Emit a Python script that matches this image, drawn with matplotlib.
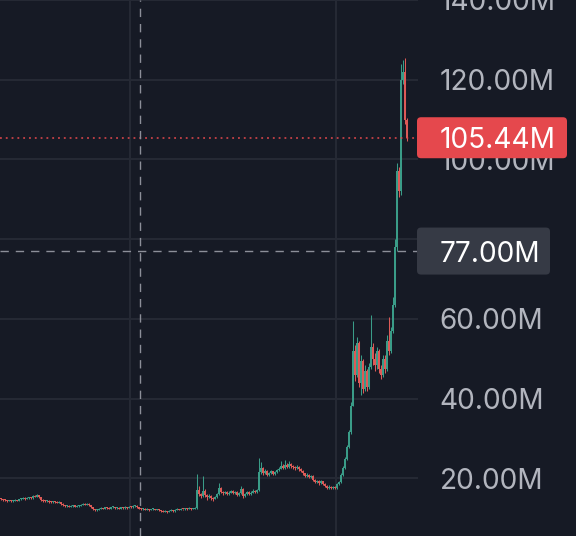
import matplotlib
matplotlib.use("Agg")
import matplotlib.pyplot as plt
from matplotlib.patches import FancyBboxPatch
from matplotlib.transforms import IdentityTransform
import numpy as np

# precios en millones (cierre, maximo, minimo); la apertura es el cierre anterior
cierre = [
    14.8, 14.6, 14.5, 14.3, 14.4, 14.2, 14.3, 14.5, 14.4, 14.7,
    14.9, 15.1, 14.8, 15.0, 15.2, 15.0, 15.6, 15.4, 15.7, 15.2,
    14.6, 14.3, 14.2, 14.4, 14.1, 14.0, 14.2, 14.1, 13.9, 14.0,
    13.6, 13.2, 13.0, 13.1, 12.9, 13.0, 13.2, 12.9, 13.0, 13.1,
    13.3, 13.5, 13.4, 13.6, 13.2, 12.8, 12.2, 11.9, 12.1, 12.3,
    12.5, 12.4, 12.7, 12.6, 12.4, 12.7, 12.8, 12.5, 12.6, 12.4,
    12.7, 12.5, 12.8, 12.6, 12.9, 12.7, 13.0, 13.1, 12.7, 12.4,
    12.2, 12.4, 12.1, 12.3, 12.0, 12.2, 12.3, 12.1, 12.2, 12.0,
    11.8, 11.6, 11.7, 11.5, 11.8, 12.0, 11.7, 12.1, 12.3, 12.1,
    12.3, 12.2, 12.4, 12.3, 12.5, 12.3, 12.4, 12.6, 17.0, 16.0,
    15.6, 16.8, 15.8, 15.2, 15.6, 15.0, 14.8, 15.3, 16.0, 17.5,
    16.6, 16.2, 16.5, 16.0, 16.4, 16.8, 16.3, 16.6, 15.9, 16.2,
    17.4, 15.6, 16.1, 16.6, 16.0, 16.4, 16.9, 16.5, 17.0, 21.5,
    22.5, 21.4, 21.8, 20.9, 21.3, 21.7, 21.0, 21.5, 22.0, 22.4,
    23.1, 22.6, 23.4, 22.8, 23.5, 23.0, 22.7, 22.5, 22.8, 22.3,
    21.8, 21.2, 20.6, 20.9, 20.3, 20.5, 19.6, 19.0, 19.3, 18.8,
    19.2, 18.5, 18.0, 17.6, 17.9, 17.5, 17.8, 17.6, 18.6, 19.0,
    20.8, 22.6, 24.8, 27.8, 31.5, 38.0, 52.0, 46.0, 54.0, 44.0,
    49.5, 42.5, 47.0, 43.0, 48.0, 53.0, 50.0, 48.5, 52.0, 47.5,
    46.0, 50.0, 47.5, 54.5, 52.0, 57.0, 63.5, 78.0, 97.0, 92.0,
    120.0, 122.0, 110.0, 105.44,
]
maximo = [
    15.0, 14.9, 14.7, 14.6, 14.6, 14.5, 14.5, 14.7, 14.6, 14.9,
    15.1, 15.3, 15.2, 15.2, 15.4, 15.3, 15.8, 15.8, 16.0, 15.8,
    15.2, 14.7, 14.5, 14.6, 14.5, 14.3, 14.4, 14.3, 14.2, 14.2,
    14.1, 13.7, 13.3, 13.3, 13.2, 13.2, 13.4, 13.3, 13.2, 13.3,
    13.5, 13.8, 13.7, 13.8, 13.7, 13.3, 12.9, 12.3, 12.3, 12.5,
    12.7, 12.6, 12.9, 12.9, 12.7, 12.9, 13.0, 12.9, 12.8, 12.7,
    12.9, 12.8, 13.0, 12.9, 13.1, 13.0, 13.2, 13.4, 13.2, 12.8,
    12.5, 12.6, 12.5, 12.5, 12.4, 12.4, 12.5, 12.4, 12.4, 12.3,
    12.1, 11.9, 11.9, 11.8, 12.0, 12.2, 12.1, 12.3, 12.5, 12.4,
    12.5, 12.4, 12.6, 12.5, 12.7, 12.6, 12.6, 12.8, 21.0, 18.0,
    16.4, 20.6, 17.2, 16.0, 16.0, 15.8, 15.3, 15.6, 16.3, 18.7,
    17.8, 16.9, 16.8, 16.7, 16.7, 17.1, 17.0, 16.9, 16.8, 16.5,
    18.0, 17.5, 16.4, 16.9, 16.8, 16.7, 17.2, 17.1, 17.3, 25.0,
    24.0, 22.8, 22.2, 22.0, 21.6, 22.0, 21.9, 21.8, 22.4, 22.8,
    24.3, 23.5, 24.6, 23.8, 24.2, 23.8, 23.3, 23.0, 23.2, 23.0,
    22.5, 22.0, 21.4, 21.3, 21.1, 20.8, 20.7, 19.8, 19.6, 19.5,
    19.5, 19.4, 18.7, 18.3, 18.2, 18.1, 18.1, 18.0, 18.9, 19.4,
    21.2, 23.0, 25.3, 28.3, 32.2, 39.0, 59.5, 53.5, 55.5, 54.5,
    51.0, 50.0, 48.5, 47.5, 49.0, 61.0, 54.0, 51.5, 53.0, 52.5,
    48.5, 51.0, 51.0, 56.0, 60.5, 58.0, 65.5, 80.0, 99.0, 98.0,
    124.0, 125.0, 125.5, 110.5,
]
minimo = [
    14.6, 14.4, 14.3, 14.1, 14.2, 14.0, 14.1, 14.2, 14.2, 14.3,
    14.6, 14.8, 14.6, 14.7, 14.9, 14.8, 14.9, 15.2, 15.3, 15.0,
    14.4, 14.1, 14.0, 14.1, 13.9, 13.8, 13.9, 13.9, 13.7, 13.8,
    13.4, 13.0, 12.8, 12.8, 12.7, 12.8, 12.9, 12.7, 12.8, 12.9,
    13.0, 13.2, 13.2, 13.3, 13.0, 12.6, 12.0, 11.7, 11.8, 12.0,
    12.2, 12.2, 12.3, 12.4, 12.2, 12.3, 12.6, 12.3, 12.4, 12.2,
    12.3, 12.3, 12.4, 12.4, 12.5, 12.5, 12.6, 12.9, 12.5, 12.2,
    12.0, 12.1, 11.9, 12.0, 11.8, 11.9, 12.1, 11.9, 12.0, 11.8,
    11.6, 11.4, 11.5, 11.3, 11.4, 11.7, 11.5, 11.6, 12.0, 11.9,
    12.0, 12.0, 12.1, 12.1, 12.2, 12.1, 12.2, 12.3, 12.4, 15.6,
    15.0, 15.4, 15.4, 14.6, 15.0, 14.5, 14.4, 14.7, 15.1, 15.7,
    16.2, 15.8, 16.0, 15.7, 15.8, 16.2, 16.0, 16.1, 15.5, 15.6,
    16.0, 15.0, 15.4, 15.9, 15.7, 15.8, 16.2, 16.2, 16.3, 16.8,
    21.0, 20.8, 21.0, 20.5, 20.6, 21.0, 20.7, 20.8, 21.2, 21.7,
    22.2, 22.2, 22.4, 22.5, 22.6, 22.6, 22.3, 22.1, 22.3, 21.9,
    21.5, 20.9, 20.3, 20.4, 20.0, 20.0, 19.3, 18.7, 18.8, 18.4,
    18.6, 18.2, 17.8, 17.3, 17.4, 17.2, 17.3, 17.3, 17.4, 18.4,
    18.8, 20.5, 22.3, 24.5, 27.5, 31.0, 38.0, 44.5, 45.5, 43.0,
    41.0, 41.5, 42.0, 42.0, 42.5, 47.5, 48.5, 47.0, 47.5, 46.5,
    45.0, 45.5, 46.5, 47.0, 51.0, 51.5, 56.5, 63.0, 77.0, 90.5,
    91.0, 119.0, 109.0, 104.5,
]
apertura_inicial = 14.9
precio_actual = 105.44
precio_cursor = 77.0
niveles = [20, 40, 60, 80, 100, 120, 140]
lineas_tiempo = [64.5, 167.5]
x_cursor = 69.5

fondo = "#161a25"
verde = "#3a9c88"
rojo = "#e5484d"
rojo_vela = "#dd5a57"

cierre = np.array(cierre)
apertura = np.concatenate([[apertura_inicial], cierre[:-1]])
maximo = np.maximum(np.array(maximo), np.maximum(apertura, cierre))
minimo = np.minimum(np.array(minimo), np.minimum(apertura, cierre))
x = np.arange(len(cierre))
sube = cierre >= apertura
colores = np.where(sube, verde, rojo_vela)

fig = plt.figure(figsize=(5.76, 5.36), dpi=100, facecolor=fondo)
ax = fig.add_axes([0, 0, 418 / 576, 1])
ax.set_facecolor(fondo)
for s in ax.spines.values():
    s.set_visible(False)

ax.set_xlim(-0.5, 208.5)
ax.set_ylim(5.5, 139.5)

# rejilla
tam = 20.2
ax.set_yticks(niveles)
ax.set_yticklabels([f"{v:.2f}M" for v in niveles])
ax.set_xticks(lineas_tiempo)
ax.set_xticklabels([])
ax.grid(True, color="#262a35", linewidth=1.4)
ax.set_axisbelow(True)
ax.yaxis.tick_right()
ax.tick_params(axis="y", length=0, pad=15.5, labelsize=tam, labelcolor="#b2b5be")
ax.tick_params(axis="x", length=0)
for t in ax.get_yticklabels():
    t.set_fontfamily("Inter")
    t.set_clip_on(False)

# velas
ax.vlines(x, minimo, maximo, colors=colores, linewidth=0.75, zorder=3)
ax.bar(x, np.maximum(np.abs(cierre - apertura), 0.25), bottom=np.minimum(apertura, cierre),
       width=0.6, color=colores, linewidth=0, zorder=3)

# linea de precio actual y cursor
ax.axhline(precio_actual, color=rojo, linewidth=1.1, linestyle=(0, (1.2, 2.6)), zorder=4)
ax.axhline(precio_cursor, color="#8c8f99", linewidth=1.0, linestyle=(0, (6, 5)), zorder=4)
ax.axvline(x_cursor, color="#8c8f99", linewidth=1.0, linestyle=(0, (6, 5)), zorder=4)

# etiquetas del eje de precios
fig.canvas.draw()
alto = fig.get_size_inches()[1] * fig.dpi


def etiqueta(valor, color, h, w):
    y = ax.transData.transform((0, valor))[1]
    caja = FancyBboxPatch((417, y - h / 2), w, h, boxstyle="round,pad=0,rounding_size=4",
                          facecolor=color, edgecolor="none", transform=IdentityTransform(),
                          zorder=10)
    fig.add_artist(caja)
    fig.text(440 / 576, y / alto, f"{valor:.2f}M", color="white", fontsize=tam,
             family="Inter", ha="left", va="center_baseline", zorder=11)


etiqueta(precio_actual, rojo, 41, 150)
etiqueta(precio_cursor, "#363a45", 47, 133)

fig.savefig("out.png", dpi=100, facecolor=fondo)
